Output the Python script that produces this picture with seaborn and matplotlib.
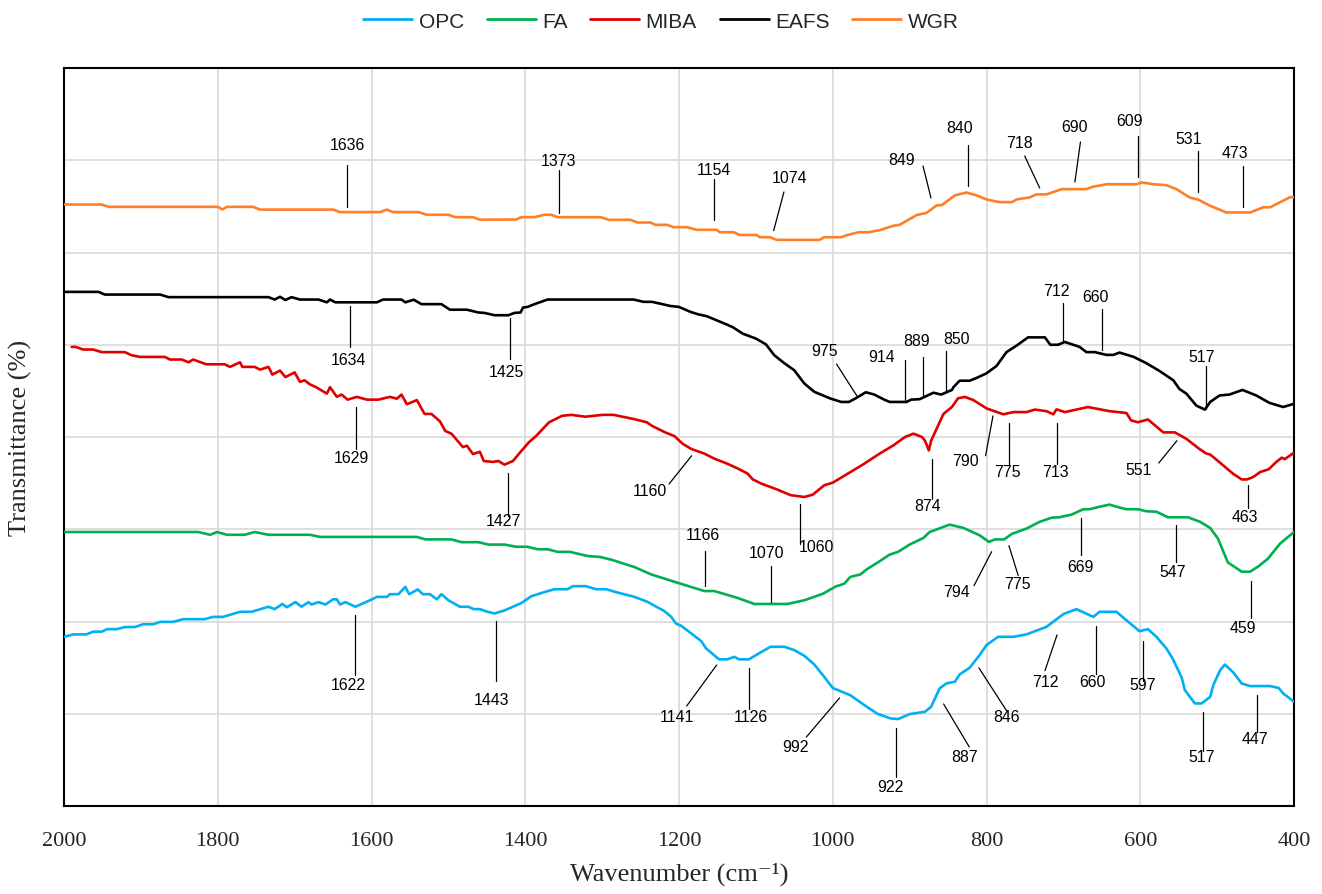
import matplotlib
matplotlib.use("Agg")
import matplotlib.pyplot as plt
import numpy as np
import pandas as pd
import seaborn as sns

# ---------------- data ----------------
series_names = ["OPC", "FA", "MIBA", "EAFS", "WGR"]

wgr_w = [2000, 1951, 1942, 1800, 1794, 1788, 1754, 1745, 1650, 1641, 1589, 1580, 1572, 1539, 1528, 1500,
         1491, 1468, 1459, 1412, 1405, 1388, 1375, 1366, 1358, 1302, 1291, 1263, 1254, 1237, 1231, 1216,
         1207, 1190, 1177, 1151, 1147, 1129, 1121, 1099, 1095, 1082, 1073, 1017, 1011, 989, 981, 966, 953,
         939, 921, 913, 891, 878, 865, 858, 841, 826, 813, 800, 783, 767, 761, 744, 735, 722, 702, 670, 663,
         644, 605, 598, 583, 566, 553, 535, 525, 509, 488, 457, 440, 431, 405, 400]
wgr_t = [65.2, 65.2, 64.95, 64.95, 64.67, 64.95, 64.95, 64.65, 64.65, 64.38, 64.38, 64.65, 64.38, 64.38, 64.09, 64.09,
         63.83, 63.83, 63.55, 63.58, 63.83, 63.83, 64.09, 64.09, 63.83, 63.83, 63.54, 63.54, 63.25, 63.25, 63.0, 63.0,
         62.75, 62.75, 62.46, 62.46, 62.2, 62.2, 61.9, 61.9, 61.66, 61.66, 61.37, 61.37, 61.66, 61.66, 61.9, 62.2, 62.2,
         62.42, 62.9, 63.0, 64.05, 64.3, 65.1, 65.15, 66.2, 66.5, 66.2, 65.75, 65.46, 65.46, 65.75, 65.97, 66.3, 66.3, 66.87, 66.87, 67.1,
         67.4, 67.4, 67.6, 67.4, 67.3, 66.87, 65.93, 65.75, 65.06, 64.34, 64.34, 64.9, 64.9, 66.0, 66.0]

eafs_w = [2000, 1955, 1947, 1875, 1864, 1734, 1726, 1719, 1712, 1704, 1693, 1669, 1658, 1654, 1647, 1593, 1585,
          1561, 1556, 1545, 1535, 1509, 1498, 1476, 1461, 1453, 1440, 1422, 1414, 1406, 1403, 1397, 1388, 1371,
          1259, 1246, 1235, 1211, 1200, 1185, 1175, 1164, 1138, 1130, 1117, 1100, 1087, 1076, 1063, 1050, 1037,
          1024, 1004, 989, 979, 970, 957, 946, 933, 926, 904, 898, 887, 869, 859, 845, 843, 835, 822, 813, 800,
          787, 774, 761, 746, 724, 717, 707, 698, 679, 670, 659, 644, 635, 627, 609, 592, 575, 557, 549, 540,
          527, 516, 509, 497, 484, 467, 449, 432, 414, 400]
eafs_t = [55.73, 55.73, 55.44, 55.44, 55.16, 55.16, 54.9, 55.2, 54.85, 55.16, 54.9, 54.9, 54.6, 54.9, 54.6, 54.6, 54.9,
          54.9, 54.6, 54.88, 54.4, 54.4, 53.8, 53.8, 53.5, 53.45, 53.2, 53.2, 53.45, 53.5, 54.03, 54.1, 54.4, 54.9,
          54.9, 54.65, 54.65, 54.2, 54.1, 53.56, 53.3, 53.1, 52.2, 51.9, 51.2, 50.67, 50.05, 48.86, 48.0, 47.23, 45.8,
          44.9, 44.2, 43.8, 43.8, 44.2, 44.85, 44.6, 44.05, 43.8, 43.8, 44.05, 44.1, 44.8, 44.6, 45.1, 45.4, 46.1, 46.1, 46.4, 46.9,
          47.7, 49.2, 49.9, 50.8, 50.8, 50.0, 50.0, 50.3, 49.77, 49.2, 49.2, 48.9, 48.9, 49.15, 48.7, 48.0, 47.16, 46.15, 45.2, 44.7,
          43.4, 42.97, 43.8, 44.5, 44.6, 45.1, 44.5, 43.7, 43.25, 43.6]

miba_w = [1990, 1985, 1975, 1962, 1951, 1921, 1912, 1901, 1869, 1862, 1847, 1838, 1832, 1815, 1791, 1784, 1771,
          1768, 1752, 1745, 1734, 1729, 1719, 1712, 1700, 1693, 1687, 1680, 1672, 1658, 1654, 1645, 1639, 1631,
          1619, 1606, 1591, 1576, 1567, 1561, 1554, 1541, 1531, 1522, 1511, 1504, 1496, 1481, 1476, 1468, 1459,
          1454, 1442, 1435, 1427, 1416, 1407, 1395, 1386, 1369, 1352, 1340, 1322, 1299, 1285, 1259, 1242, 1235,
          1218, 1206, 1195, 1184, 1167, 1154, 1137, 1124, 1111, 1104, 1093, 1072, 1055, 1037, 1026, 1011, 1000,
          981, 961, 939, 921, 906, 895, 884, 880, 875, 872, 867, 856, 845, 837, 828, 817, 800, 778, 765, 748,
          737, 722, 713, 709, 698, 668, 640, 618, 612, 603, 590, 570, 555, 540, 523, 514, 509, 496, 479, 468,
          461, 453, 444, 433, 423, 416, 412, 400]
miba_t = [49.77, 49.77, 49.48, 49.48, 49.2, 49.2, 48.86, 48.68, 48.68, 48.4, 48.4, 48.1, 48.4, 47.88, 47.88, 47.6, 48.1,
          47.6, 47.6, 47.3, 47.6, 46.76, 47.2, 46.5, 47.0, 45.97, 46.15, 45.7, 45.4, 44.7, 45.4, 44.35, 44.6, 44.05,
          44.35, 44.05, 44.05, 44.35, 44.15, 44.6, 43.55, 44.0, 42.5, 42.5, 41.7, 40.65, 40.36, 38.9, 39.06, 38.15, 38.4,
          37.4, 37.3, 37.4, 37.0, 37.4, 38.3, 39.45, 40.1, 41.6, 42.3, 42.4, 42.2, 42.4, 42.4, 41.95, 41.6, 41.2,
          40.5, 40.1, 39.25, 38.7, 38.2, 37.65, 37.1, 36.6, 36.05, 35.4, 34.95, 34.3, 33.7, 33.5, 33.75, 34.77, 35.05,
          36.0, 37.0, 38.2, 39.1, 40.0, 40.36, 40.0, 39.6, 38.55, 39.6, 40.5, 42.5, 43.25, 44.2, 44.34, 44.0, 43.1, 42.46, 42.7, 42.7,
          42.97, 42.8, 42.46, 43.0, 42.7, 43.25, 42.8, 42.6, 41.8, 41.6, 41.9, 40.5, 40.5, 39.8, 38.7, 38.2, 38.1, 37.2, 36.0, 35.4,
          35.4, 35.67, 36.2, 36.5, 37.3, 37.76, 37.6, 38.3]

fa_w = [2000, 1825, 1810, 1801, 1788, 1765, 1752, 1734, 1680, 1667, 1541, 1530, 1496, 1483, 1461, 1448, 1427,
        1412, 1397, 1384, 1371, 1358, 1342, 1319, 1303, 1288, 1258, 1236, 1202, 1167, 1154, 1124, 1102, 1059,
        1037, 1013, 996, 985, 977, 964, 955, 939, 926, 915, 900, 882, 874, 848, 830, 809, 797, 789, 777, 767,
        748, 731, 715, 705, 689, 674, 666, 655, 640, 629, 618, 603, 592, 579, 564, 538, 522, 509, 499, 486,
        468, 457, 446, 434, 418, 400]
fa_t = [29.7, 29.7, 29.4, 29.7, 29.4, 29.4, 29.7, 29.4, 29.4, 29.17, 29.17, 28.9, 28.9, 28.6, 28.6, 28.34, 28.34,
        28.1, 28.1, 27.83, 27.83, 27.55, 27.55, 27.1, 27.0, 26.7, 25.9, 25.1, 24.2, 23.3, 23.3, 22.56, 21.9, 21.9,
        22.3, 23.0, 23.8, 24.1, 24.84, 25.1, 25.7, 26.53, 27.25, 27.55, 28.34, 29.06, 29.7, 30.5, 30.14, 29.35, 28.63, 28.9, 28.9, 29.5,
        30.07, 30.8, 31.26, 31.3, 31.6, 32.17, 32.17, 32.4, 32.67, 32.4, 32.17, 32.17, 31.95, 31.9, 31.3, 31.3, 30.8, 30.14, 29.0, 26.4,
        25.4, 25.4, 26.0, 26.8, 28.45, 29.7]

opc_w = [2000, 1988, 1971, 1962, 1951, 1944, 1931, 1921, 1908, 1897, 1884, 1875, 1858, 1845, 1817, 1806, 1793,
         1771, 1756, 1734, 1726, 1716, 1710, 1699, 1691, 1682, 1678, 1669, 1660, 1650, 1645, 1641, 1634, 1621,
         1602, 1593, 1580, 1576, 1565, 1556, 1551, 1540, 1533, 1524, 1515, 1509, 1500, 1485, 1474, 1467, 1459,
         1451, 1440, 1427, 1405, 1392, 1377, 1362, 1345, 1338, 1321, 1308, 1295, 1280, 1258, 1241, 1219, 1210,
         1204, 1197, 1184, 1171, 1165, 1148, 1137, 1128, 1122, 1109, 1094, 1081, 1063, 1050, 1037, 1024, 1013,
         1000, 977, 959, 942, 925, 915, 900, 880, 872, 861, 852, 841, 835, 822, 809, 800, 785, 765, 748, 722,
         700, 683, 661, 653, 631, 618, 601, 590, 579, 566, 558, 546, 542, 529, 520, 509, 505, 496, 490, 479,
         468, 457, 431, 420, 414, 400]
opc_t = [18.34, 18.6, 18.6, 18.9, 18.9, 19.17, 19.17, 19.4, 19.4, 19.7, 19.7, 19.96, 19.96, 20.25, 20.25, 20.5, 20.5,
         21.05, 21.05, 21.6, 21.34, 21.9, 21.55, 22.1, 21.6, 22.1, 21.84, 22.1, 21.84, 22.4, 22.4, 21.84, 22.1, 21.6,
         22.3, 22.67, 22.67, 22.96, 22.96, 23.75, 22.96, 23.47, 22.96, 22.96, 22.4, 22.96, 22.3, 21.6, 21.6, 21.34, 21.34,
         21.1, 20.87, 21.2, 22.0, 22.74, 23.14, 23.5, 23.5, 23.83, 23.83, 23.5, 23.5, 23.14, 22.67, 22.13, 21.12, 20.5,
         19.78, 19.53, 18.7, 17.87, 17.1, 15.9, 15.9, 16.17, 15.9, 15.9, 16.64, 17.26, 17.26, 16.9, 16.28, 15.34, 14.2,
         12.8, 12.0, 10.94, 10.0, 9.5, 9.42, 9.96, 10.22, 10.76, 12.74, 13.3, 13.47, 14.26, 14.98, 16.35, 17.44, 18.34, 18.34, 18.6, 19.42,
         20.8, 21.34, 20.5, 21.05, 21.05, 20.14, 18.95, 19.17, 18.34, 17.08, 16.0, 13.9, 12.56, 11.12, 11.12, 11.84, 13.1, 14.73, 15.34, 14.48,
         13.28, 13.0, 13.0, 12.8, 12.2, 11.3]

# peak labels: text, text position (wavenumber, value), leader line (w1, v1) -> (w2, v2)
ann_text = ["1636", "1373", "1154", "1074", "849", "840", "718", "690", "609", "531", "473",
            "1634", "1425", "975", "914", "889", "850", "712", "660", "517",
            "1629", "1427", "1160", "1060", "874", "790", "775", "713", "551", "463",
            "1166", "1070", "794", "775", "669", "547", "459",
            "1622", "1443", "1141", "1126", "992", "922", "887", "846", "712", "660", "597", "517", "447"]
ann_tx = [1631.9, 1356.1, 1154.5, 1056.9, 909.9, 834.5, 757.1, 685.6, 614.6, 536.6, 476.7,
          1630.6, 1425.0, 1010.7, 936.6, 890.9, 838.4, 709.6, 658.9, 520.1,
          1625.6, 1428.2, 1237.7, 1020.9, 876.5, 827.9, 773.4, 710.2, 602.2, 463.8,
          1168.4, 1085.9, 839.7, 759.5, 678.4, 557.4, 466.7,
          1630.6, 1443.6, 1203.0, 1106.3, 1048.2, 925.5, 827.9, 773.4, 723.9, 662.8, 596.4, 520.2, 450.7]
ann_ty = [71.76, 69.92, 69.05, 68.18, 70.13, 73.5, 71.87, 73.71, 74.36, 72.41, 70.79,
          48.45, 47.15, 49.43, 48.78, 50.41, 50.73, 55.93, 55.28, 48.78,
          37.83, 31.0, 34.15, 28.08, 32.55, 37.43, 36.21, 36.21, 36.46, 31.33,
          29.38, 27.43, 23.2, 24.17, 25.91, 25.47, 19.3,
          13.12, 11.52, 9.65, 9.65, 6.4, 2.09, 5.42, 9.65, 13.47, 13.47, 13.12, 5.34, 7.37]
ann_x1 = [1632.0, 1356.1, 1154.5, 1063.5, 882.6, 824.6, 750.3, 677.8, 602.9, 525.4, 466.7,
          1628.5, 1419.8, 995.1, 906.0, 882.6, 852.7, 700.9, 649.8, 514.5,
          1620.4, 1423.0, 1183.5, 1042.6, 871.4, 791.6, 771.0, 708.6, 552.3, 459.9,
          1166.2, 1080.7, 793.3, 770.8, 677.5, 553.5, 456.3,
          1621.5, 1438.4, 1151.0, 1108.5, 991.2, 918.3, 855.8, 809.8, 708.3, 657.8, 595.9, 518.4, 448.1]
ann_y1 = [69.48, 68.94, 67.97, 66.56, 69.38, 71.65, 70.46, 71.98, 72.63, 71.0, 69.38,
          54.2, 52.9, 47.91, 48.35, 48.67, 49.32, 54.53, 53.87, 47.7,
          43.25, 36.1, 37.97, 32.74, 37.61, 42.28, 41.52, 41.52, 39.6, 34.8,
          27.64, 26.02, 27.57, 28.22, 31.22, 30.49, 24.39,
          20.74, 20.09, 15.28, 14.96, 11.71, 8.46, 11.06, 14.96, 18.54, 19.54, 17.92, 10.19, 12.07]
ann_x2 = [1632.0, 1356.1, 1154.5, 1076.9, 872.2, 824.6, 730.8, 685.0, 602.9, 525.4, 466.7,
          1628.5, 1419.8, 968.5, 906.0, 882.6, 852.7, 700.9, 649.8, 514.5,
          1620.4, 1423.0, 1213.0, 1042.6, 871.4, 801.2, 771.0, 708.6, 575.9, 459.9,
          1166.2, 1080.7, 816.3, 758.7, 677.5, 553.5, 456.3,
          1621.5, 1438.4, 1190.0, 1108.5, 1034.3, 918.3, 822.4, 773.9, 723.9, 657.8, 595.9, 518.4, 448.1]
ann_y2 = [64.93, 64.28, 63.49, 62.36, 65.91, 67.21, 66.99, 67.64, 68.18, 66.56, 64.93,
          49.76, 48.45, 44.44, 43.79, 44.34, 44.88, 50.3, 49.43, 43.03,
          38.7, 31.44, 34.9, 28.4, 33.28, 37.97, 37.07, 37.07, 37.18, 32.3,
          23.85, 22.11, 23.88, 24.96, 27.21, 26.45, 20.38,
          14.2, 13.55, 10.84, 10.51, 7.48, 3.14, 6.4, 10.33, 14.67, 14.31, 13.58, 5.99, 8.05]

# ---------------- build frame ----------------
frames = []
for name, w, t in [("OPC", opc_w, opc_t), ("FA", fa_w, fa_t), ("MIBA", miba_w, miba_t),
                   ("EAFS", eafs_w, eafs_t), ("WGR", wgr_w, wgr_t)]:
    frames.append(pd.DataFrame({"Wavenumber": w, "Transmittance": t, "Sample": name}))
df = pd.concat(frames, ignore_index=True)

palette = {"OPC": "#00B0F0", "FA": "#00B050", "MIBA": "#E00000", "EAFS": "#000000", "WGR": "#FF7F27"}

sns.set_theme(style="white")
plt.rcParams["font.family"] = ["Liberation Sans", "DejaVu Sans"]

fig = plt.figure(figsize=(13.22, 8.95), dpi=100)
ax = fig.add_axes([64 / 1322, 1 - 807 / 895, 1230 / 1322, 738 / 895])

sns.lineplot(data=df, x="Wavenumber", y="Transmittance", hue="Sample", hue_order=series_names,
             palette=palette, estimator=None, sort=True, linewidth=1.9, ax=ax, zorder=3)

ax.set_xlim(2000, 400)
ax.set_ylim(0, 80)
ax.set_xticks(np.arange(2000, 399, -200))
ax.set_yticks(np.arange(0, 81, 10))
ax.set_yticklabels([])
ax.grid(True, color="#d9d9d9", linewidth=1.2, zorder=0)
ax.set_axisbelow(True)
ax.tick_params(axis="both", length=0)
ax.tick_params(axis="x", pad=18)
for lab in ax.get_xticklabels():
    lab.set_fontfamily(["Liberation Serif", "DejaVu Serif"])
    lab.set_fontsize(16)
for sp in ax.spines.values():
    sp.set_visible(True)
    sp.set_color("black")
    sp.set_linewidth(1.5)

ax.set_xlabel("Wavenumber (cm\u207b\u00b9)", fontsize=19, family=["Liberation Serif", "DejaVu Serif"])
ax.set_ylabel("Transmittance (%)", fontsize=19, family=["Liberation Serif", "DejaVu Serif"])
ax.xaxis.set_label_coords(0.5, -0.075)
ax.yaxis.set_label_coords(-0.026, 0.5)

# peak annotations
for txt, tx, ty, x1, y1, x2, y2 in zip(ann_text, ann_tx, ann_ty, ann_x1, ann_y1, ann_x2, ann_y2):
    ax.plot([x1, x2], [y1, y2], color="black", linewidth=0.9, zorder=4)
    ax.text(tx, ty, txt, ha="center", va="center", fontsize=11.4, color="black", zorder=5)

# legend
handles, labels = ax.get_legend_handles_labels()
ax.get_legend().remove()
fig.legend(handles, labels, loc="center", bbox_to_anchor=(0.5, 1 - 22 / 895), ncol=5, frameon=False,
           fontsize=15, handlelength=2.35, handletextpad=0.3, columnspacing=1.1)
for h in fig.legends[0].get_lines():
    h.set_linewidth(2.0)

fig.savefig("out.png", dpi=100)
